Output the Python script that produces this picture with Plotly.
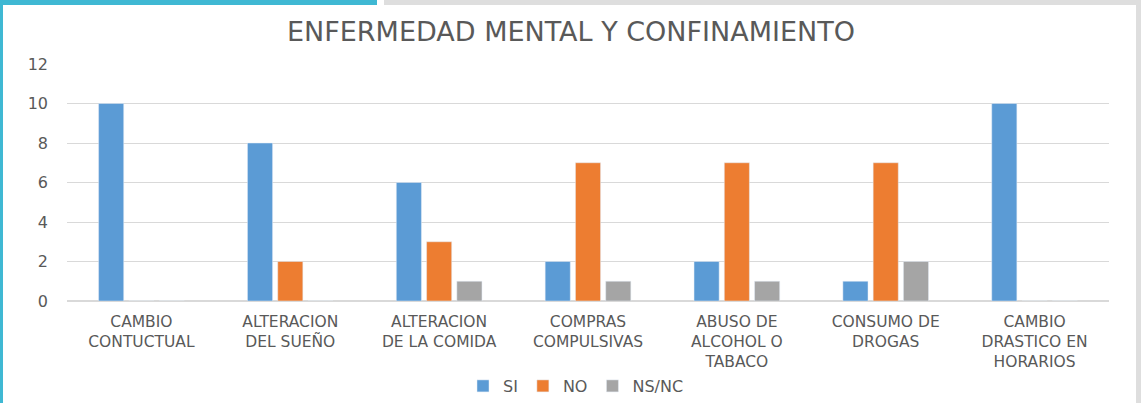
import plotly.graph_objects as go

categories = ["CAMBIO<br>CONTUCTUAL", "ALTERACION<br>DEL SUEÑO", "ALTERACION<br>DE LA COMIDA",
              "COMPRAS<br>COMPULSIVAS", "ABUSO DE<br>ALCOHOL O<br>TABACO", "CONSUMO DE<br>DROGAS",
              "CAMBIO<br>DRASTICO EN<br>HORARIOS"]
si = [10, 8, 6, 2, 2, 1, 10]
no = [0, 2, 3, 7, 7, 7, 0]
nsnc = [0, 0, 1, 1, 1, 2, 0]

W, H = 1141, 403
L, R, T, B = 67, 1109, 64, 301
FONT = "DejaVu Sans, Verdana, sans-serif"
GRAY = "#595959"

fig = go.Figure()
fig.add_bar(x=categories, y=si, name="SI", marker_color="#5B9BD5")
fig.add_bar(x=categories, y=no, name="NO", marker_color="#ED7D31")
fig.add_bar(x=categories, y=nsnc, name="NS/NC", marker_color="#A5A5A5")

def px(x):
    return (x - L) / (R - L)

def py(y):
    return (B - y) / (B - T)

shapes = [
    dict(type="rect", xref="paper", yref="paper", x0=px(0), x1=px(377), y0=py(0), y1=py(5),
         fillcolor="#3FB8D3", line_width=0, layer="above"),
    dict(type="rect", xref="paper", yref="paper", x0=px(0), x1=px(3), y0=py(0), y1=py(403),
         fillcolor="#3FB8D3", line_width=0, layer="above"),
    dict(type="rect", xref="paper", yref="paper", x0=px(384), x1=px(1141), y0=py(0), y1=py(5),
         fillcolor="#DEDEDE", line_width=0, layer="above"),
    dict(type="rect", xref="paper", yref="paper", x0=px(1136), x1=px(1141), y0=py(0), y1=py(403),
         fillcolor="#DEDEDE", line_width=0, layer="above"),
]

fig.update_layout(
    width=W, height=H,
    margin=dict(l=L, r=W - R, t=T, b=H - B, autoexpand=False),
    paper_bgcolor="white", plot_bgcolor="white",
    barmode="group", bargap=0.39, bargroupgap=0.17,
    font=dict(family=FONT, color=GRAY, size=15),
    title=dict(text="ENFERMEDAD MENTAL Y CONFINAMIENTO", x=(571 / W), xanchor="center",
               y=1 - 32 / H, yanchor="middle",
               font=dict(size=27, color=GRAY, family=FONT)),
    legend=dict(orientation="h", x=px(576), xanchor="center", y=py(386), yanchor="middle",
                font=dict(size=16, color=GRAY, family=FONT), itemwidth=30, tracegroupgap=0),
    shapes=shapes,
    showlegend=True,
)
fig.update_yaxes(range=[0, 12], dtick=2, showgrid=True, gridcolor="#D9D9D9", gridwidth=1,
                 zeroline=True, zerolinecolor="#D9D9D9", showline=False, automargin=False,
                 ticklabelstandoff=18, tickfont=dict(size=16, color=GRAY, family=FONT))
fig.update_xaxes(showgrid=False, showline=False, automargin=False,
                 tickfont=dict(size=15.5, color=GRAY, family=FONT),
                 ticklabelstandoff=9)

fig.write_html("out.html", config={"displayModeBar": False},
               post_script="document.body.style.margin='0px';document.body.style.overflow='hidden';")
